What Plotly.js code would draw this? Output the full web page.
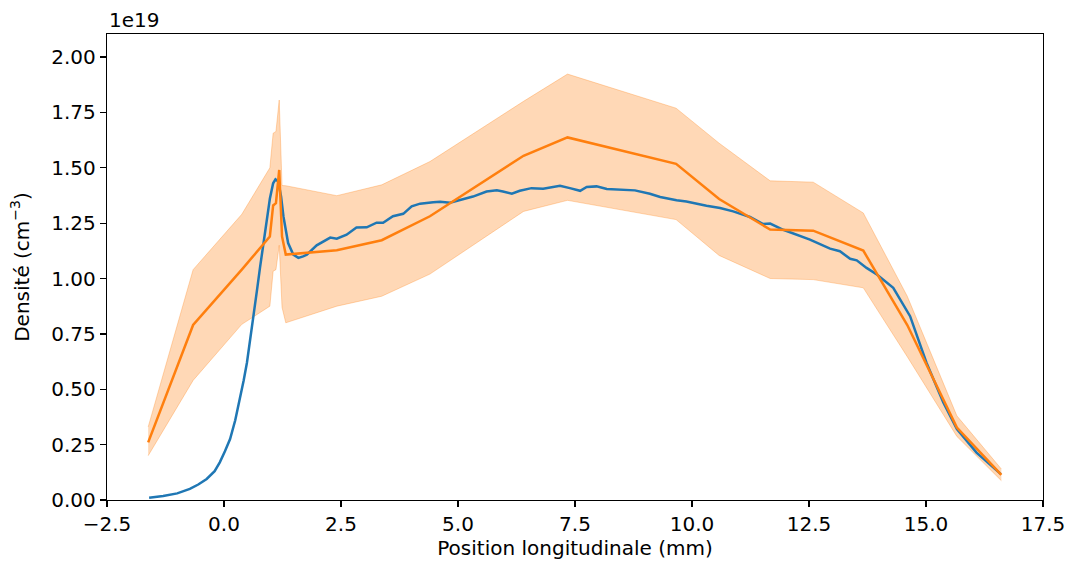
<!DOCTYPE html>
<html>
<head>
<meta charset="utf-8">
<script src="https://cdn.plot.ly/plotly-3.0.1.min.js"></script>
<style>html,body{margin:0;padding:0;background:#fff;}#chart{width:1067px;height:563px;}</style>
</head>
<body>
<div id="chart"></div>
<script>
// Measured profile (blue), density in units of 1e19 cm^-3
const blueX = [-1.6,-1.3,-1.0,-0.73,-0.55,-0.37,-0.2,-0.09,0.02,0.13,0.24,0.34,0.42,0.49,0.56,0.63,0.70,0.77,0.84,0.91,0.98,1.05,1.10,1.16,1.22,1.27,1.32,1.37,1.48,1.59,1.69,1.77,1.98,2.1,2.27,2.41,2.62,2.83,3.05,3.26,3.40,3.61,3.83,4.01,4.19,4.47,4.62,4.83,5.11,5.32,5.61,5.83,5.96,6.15,6.32,6.57,6.82,7.18,7.39,7.61,7.75,7.96,8.18,8.53,8.78,9.10,9.32,9.67,9.88,10.31,10.6,10.88,11.24,11.52,11.67,11.95,12.24,12.52,12.95,13.16,13.38,13.52,13.73,13.95,14.30,14.66,15.01,15.37,15.66,16.08,16.6];
const blueY = [0.010,0.018,0.030,0.050,0.070,0.095,0.13,0.17,0.22,0.275,0.36,0.455,0.54,0.62,0.72,0.83,0.94,1.05,1.16,1.27,1.36,1.43,1.448,1.438,1.37,1.28,1.21,1.16,1.108,1.093,1.100,1.108,1.15,1.165,1.185,1.18,1.198,1.23,1.231,1.252,1.252,1.281,1.292,1.326,1.338,1.344,1.347,1.342,1.36,1.37,1.393,1.398,1.393,1.383,1.396,1.408,1.405,1.419,1.408,1.396,1.413,1.416,1.404,1.401,1.398,1.383,1.368,1.353,1.348,1.329,1.318,1.303,1.278,1.246,1.248,1.22,1.198,1.176,1.135,1.123,1.089,1.082,1.048,1.018,0.958,0.830,0.620,0.440,0.320,0.214,0.117];

// Simulated profile (orange): mean and band
const orX    = [-1.62,-0.66,0.38,0.98,1.05,1.11,1.18,1.24,1.32,2.41,3.37,4.40,6.40,7.34,9.66,10.58,11.67,12.59,13.66,14.6,15.66,16.61];
const orMean = [0.26,0.79,1.04,1.19,1.33,1.34,1.49,1.19,1.108,1.128,1.173,1.281,1.554,1.637,1.518,1.359,1.221,1.216,1.126,0.79,0.327,0.113];
const orUp   = [0.33,1.04,1.29,1.50,1.656,1.664,1.806,1.42,1.419,1.374,1.423,1.528,1.80,1.923,1.769,1.611,1.441,1.435,1.296,0.92,0.38,0.14];
const orLow  = [0.20,0.54,0.793,0.875,1.033,1.04,1.15,0.87,0.80,0.875,0.92,1.02,1.303,1.353,1.266,1.104,1.0,0.995,0.958,0.647,0.287,0.087];

const xTicks = [-2.5,0,2.5,5,7.5,10,12.5,15,17.5];
const yTicks = [0,0.25,0.5,0.75,1.0,1.25,1.5,1.75,2.0];

const band = 'rgba(255,127,14,0.3)';
const traces = [
  {x: orX, y: orLow, mode: 'lines', line: {color: band, width: 1}, hoverinfo: 'skip'},
  {x: orX, y: orUp, mode: 'lines', line: {color: band, width: 1}, fill: 'tonexty', fillcolor: band, hoverinfo: 'skip'},
  {x: blueX, y: blueY, mode: 'lines', line: {color: '#1f77b4', width: 2.5}},
  {x: orX, y: orMean, mode: 'lines', line: {color: '#ff7f0e', width: 2.5}}
];

const font = {family: 'DejaVu Sans', size: 20, color: '#000'};
const layout = {
  width: 1067, height: 563,
  margin: {l: 107, r: 24, t: 34, b: 63},
  paper_bgcolor: '#fff', plot_bgcolor: '#fff',
  showlegend: false,
  font: font,
  xaxis: {
    range: [-2.5, 17.5], tickvals: xTicks, tickformat: '.1f',
    showgrid: false, zeroline: false, showline: true, mirror: true,
    linecolor: '#000', linewidth: 1.3, ticks: 'outside', ticklen: 6, tickwidth: 1.3, tickcolor: '#000',
    tickfont: font, automargin: false,
    title: {text: 'Position longitudinale (mm)', font: font, standoff: 5}
  },
  yaxis: {
    range: [0, 2.104], tickvals: yTicks, tickformat: '.2f',
    showgrid: false, zeroline: false, showline: true, mirror: true,
    linecolor: '#000', linewidth: 1.3, ticks: 'outside', ticklen: 6, tickwidth: 1.3, tickcolor: '#000',
    tickfont: font, automargin: false,
    title: {text: 'Densité (cm<sup>−3</sup>)', font: font, standoff: 16}
  },
  annotations: [{
    text: '1e19', xref: 'paper', yref: 'paper', x: 0, y: 1,
    xanchor: 'left', yanchor: 'bottom', yshift: 0, showarrow: false, font: font
  }]
};

Plotly.newPlot('chart', traces, layout, {displayModeBar: false, staticPlot: true});
</script>
</body>
</html>
